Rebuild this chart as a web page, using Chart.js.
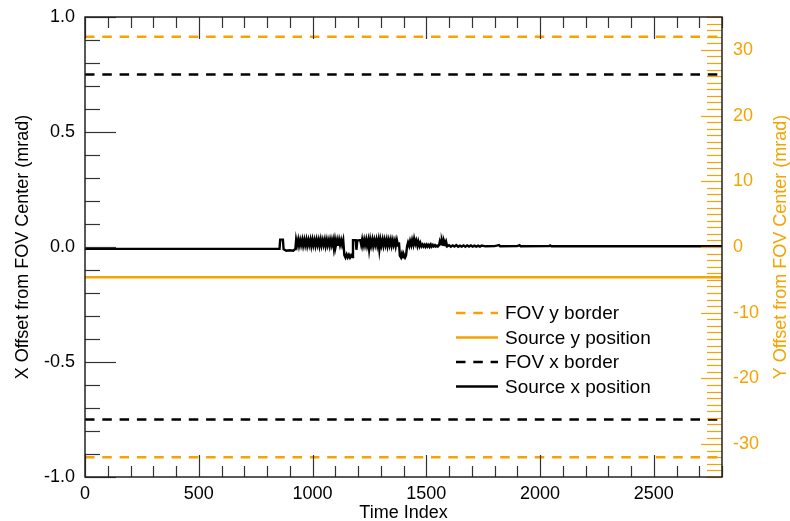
<!DOCTYPE html>
<html>
<head>
<meta charset="utf-8">
<script src="https://cdn.jsdelivr.net/npm/chart.js@4.4.1/dist/chart.umd.min.js"></script>
<style>
  html, body { margin: 0; padding: 0; background: #fff; }
</style>
</head>
<body>
<canvas id="graficoOffset" width="790" height="521"></canvas>
<script>
// datos
const timeRange = [0, 2800];
const fovYBorder = [32, -32];      // mrad, eje derecho
const fovXBorder = [0.75, -0.75];  // mrad, eje izquierdo
const srcYPos = -4.6;              // mrad, eje derecho

const srcXTime = [0, 855, 858, 870, 873, 885, 900, 915, 925,
  928, 932, 937, 941, 946, 950, 955, 959, 964, 968, 973, 977, 982, 986, 991, 995,
  1000, 1004, 1009, 1013, 1018, 1022, 1027, 1031, 1036, 1040, 1045, 1049, 1054, 1058,
  1063, 1067, 1072, 1076, 1081, 1085, 1090, 1094, 1099, 1103, 1108, 1112, 1117, 1121,
  1126, 1130, 1135,
  1140, 1145, 1150, 1155, 1160, 1165, 1170, 1175,
  1178, 1190, 1193, 1197, 1210,
  1214, 1218, 1222, 1227, 1231, 1236, 1240, 1245, 1249, 1254, 1258, 1263, 1267, 1272,
  1276, 1281, 1285, 1290, 1294, 1299, 1303, 1308, 1312, 1317, 1321, 1326, 1330, 1335,
  1339, 1344, 1348, 1353, 1357, 1362, 1366, 1371, 1376, 1380,
  1384, 1389, 1393, 1398, 1402, 1407, 1411,
  1416, 1420, 1425, 1429, 1434, 1438, 1443, 1447, 1452, 1456, 1461, 1465, 1470, 1474, 1479,
  1484, 1488, 1493, 1497, 1502, 1506, 1511, 1515, 1520, 1524, 1529, 1533, 1538, 1542,
  1547, 1551, 1556,
  1560, 1565, 1569, 1574, 1578, 1583, 1587,
  1592, 1600, 1608, 1616, 1624, 1632, 1640, 1648, 1656, 1664, 1672, 1680, 1688, 1696,
  1704, 1712, 1720, 1728, 1736, 1744, 1760, 1800, 1820, 1825, 1900, 1910, 1915,
  2040, 2045, 2050, 2800];
const srcXVal = [-0.008, -0.008, 0.032, 0.032, -0.010, -0.016, -0.014, -0.016, -0.008,
  0.030, 0.008, 0.032, 0.006, 0.030, 0.009, 0.032, 0.006, 0.031, 0.008, 0.032, 0.006, 0.030, 0.009, 0.032, 0.005,
  0.032, 0.008, 0.030, 0.006, 0.032, 0.009, 0.031, 0.005, 0.032, 0.007, 0.030, 0.009, 0.032, 0.005,
  0.031, 0.008, 0.030, 0.006, 0.032, 0.009, 0.031, -0.004, 0.032, 0.007, 0.030, 0.005, 0.031, 0.009,
  0.030, 0.010, 0.030,
  -0.036, -0.046, -0.032, -0.045, -0.034, -0.046, -0.036, -0.044,
  0.030, 0.030, -0.012, 0.028, 0.030,
  0.010, 0.032, 0.006, 0.031, 0.008, 0.032, 0.006, 0.030, -0.010, 0.031, 0.007, 0.032, 0.005, 0.030,
  0.009, 0.032, 0.006, 0.031, -0.012, 0.030, 0.008, 0.032, 0.006, 0.031, 0.009, 0.032, 0.005, 0.030,
  0.008, 0.031, 0.006, 0.030, 0.009, 0.028, 0.004, 0.030, 0.006, 0.020,
  -0.038, -0.046, -0.030, -0.045, -0.034, -0.046, -0.038,
  0.005, 0.020, 0.005, 0.026, 0.008, 0.030, 0.010, 0.036, 0.014, 0.028, 0.006, 0.024, 0.005, 0.018, 0.003,
  0.011, 0.002, 0.010, 0.001, 0.010, 0.002, 0.009, 0.001, 0.011, 0.002, 0.009, 0.003, 0.008, 0.002,
  0.006, 0.002, 0.008,
  0.026, 0.012, 0.028, 0.010, 0.027, 0.013, 0.024,
  0.003, 0.008, 0.001, 0.007, 0.002, 0.008, 0.001, 0.006, 0.002, 0.007, 0.001, 0.007, 0.002, 0.007,
  0.002, 0.006, 0.002, 0.006, 0.002, 0.006, 0.003, 0.004, 0.008, 0.003, 0.004, 0.008, 0.003,
  0.004, 0.007, 0.003, 0.003];

const xTickVals = [0, 500, 1000, 1500, 2000, 2500];
const yTickVals = [-1.0, -0.5, 0.0, 0.5, 1.0];
const y2TickVals = [-30, -20, -10, 0, 10, 20, 30];

const legendItems = ['FOV y border', 'Source y position', 'FOV x border', 'Source x position'];

const ORANGE = '#F5A300';
const FONT = "'Liberation Sans', Arial, sans-serif";

const flat = (v) => timeRange.map(t => ({x: t, y: v}));
const srcXPts = srcXTime.map((t, i) => ({x: t, y: srcXVal[i]}));

const styles = [
  {color: ORANGE, dash: [9.5, 7.8]},
  {color: ORANGE, dash: []},
  {color: '#000', dash: [9.5, 7.8]},
  {color: '#000', dash: []},
];

// ticks menores y marco
const ticksPlugin = {
  id: 'ticksPlugin',
  afterDatasetsDraw(chart) {
    const {ctx, chartArea: a, scales} = chart;
    const seg = (x1, y1, x2, y2) => { ctx.beginPath(); ctx.moveTo(x1, y1); ctx.lineTo(x2, y2); ctx.stroke(); };
    ctx.save();
    ctx.lineWidth = 1.2;
    ctx.strokeStyle = '#333';
    for (let v = 0; v <= 2800; v += 100) {
      const px = Math.round(scales.x.getPixelForValue(v)) + 0.5;
      const len = v % 500 === 0 ? 22 : 11;
      seg(px, a.bottom, px, a.bottom - len);
      seg(px, a.top, px, a.top + len);
    }
    for (let i = -10; i <= 10; i++) {
      const py = Math.round(scales.y.getPixelForValue(i / 10)) + 0.5;
      const len = i % 5 === 0 ? 31 : 15;
      seg(a.left, py, a.left + len, py);
    }
    ctx.strokeStyle = ORANGE;
    for (let v = -35; v <= 35; v++) {
      const py = Math.round(scales.y2.getPixelForValue(v)) + 0.5;
      const len = v % 10 === 0 ? 21 : 15;
      seg(a.right, py, a.right - len, py);
    }
    ctx.strokeStyle = '#222';
    ctx.lineWidth = 1.5;
    ctx.strokeRect(a.left, a.top, a.right - a.left, a.bottom - a.top);
    ctx.restore();
  }
};

// leyenda y titulo derecho
const extrasPlugin = {
  id: 'extrasPlugin',
  afterDraw(chart) {
    const {ctx, chartArea: a} = chart;
    ctx.save();
    ctx.font = '19px ' + FONT;
    ctx.textBaseline = 'middle';
    ctx.textAlign = 'left';
    legendItems.forEach((txt, i) => {
      const y = 313 + i * 24.5;
      ctx.strokeStyle = styles[i].color;
      ctx.lineWidth = 2.6;
      ctx.setLineDash(styles[i].dash);
      ctx.beginPath(); ctx.moveTo(456, y); ctx.lineTo(498, y); ctx.stroke();
      ctx.setLineDash([]);
      ctx.fillStyle = '#000';
      ctx.fillText(txt, 505, y + 1);
    });
    ctx.translate(781, (a.top + a.bottom) / 2);
    ctx.rotate(-Math.PI / 2);
    ctx.textAlign = 'center';
    ctx.fillStyle = ORANGE;
    ctx.font = '18px ' + FONT;
    ctx.fillText('Y Offset from FOV Center (mrad)', 0, 0);
    ctx.restore();
  }
};

const fitY = (w) => (s) => { s.width = w; s.paddingTop = 0; s.paddingBottom = 0; };

const ctx = document.getElementById('graficoOffset').getContext('2d');
const myChart = new Chart(ctx, {
  type: 'line',
  data: {
    datasets: [
      {label: 'FOV y border', data: flat(fovYBorder[0]), yAxisID: 'y2', borderColor: ORANGE, borderDash: styles[0].dash, borderWidth: 2.6},
      {label: 'FOV y border b', data: flat(fovYBorder[1]), yAxisID: 'y2', borderColor: ORANGE, borderDash: styles[0].dash, borderWidth: 2.6},
      {label: 'Source y position', data: flat(srcYPos), yAxisID: 'y2', borderColor: ORANGE, borderWidth: 2.6},
      {label: 'FOV x border', data: flat(fovXBorder[0]), yAxisID: 'y', borderColor: '#000', borderDash: styles[2].dash, borderWidth: 2.6},
      {label: 'FOV x border b', data: flat(fovXBorder[1]), yAxisID: 'y', borderColor: '#000', borderDash: styles[2].dash, borderWidth: 2.6},
      {label: 'Source x position', data: srcXPts, yAxisID: 'y', borderColor: '#000', borderWidth: 2.4},
    ],
  },
  options: {
    responsive: false,
    animation: false,
    layout: {padding: {top: 17, left: 0, right: 0, bottom: 0}},
    elements: {point: {radius: 0}, line: {tension: 0}},
    plugins: {legend: {display: false}, tooltip: {enabled: false}},
    scales: {
      x: {
        type: 'linear', min: 0, max: 2800,
        grid: {display: false, drawTicks: false},
        border: {display: false},
        ticks: {font: {family: FONT, size: 18}, color: '#000', padding: 6, maxRotation: 0, autoSkip: false,
                callback: (v) => String(v)},
        afterBuildTicks: (s) => { s.ticks = xTickVals.map(v => ({value: v})); },
        afterFit: (s) => { s.height = 44; s.paddingLeft = 0; s.paddingRight = 0; },
        title: {display: true, text: 'Time Index', color: '#000', font: {family: FONT, size: 18}, padding: {top: 0, bottom: -3}},
      },
      y: {
        position: 'left', min: -1, max: 1,
        grid: {display: false, drawTicks: false},
        border: {display: false},
        ticks: {font: {family: FONT, size: 18}, color: '#000', padding: 10, callback: (v) => v.toFixed(1)},
        afterBuildTicks: (s) => { s.ticks = yTickVals.map(v => ({value: v})); },
        afterFit: fitY(85),
        title: {display: true, text: 'X Offset from FOV Center (mrad)', color: '#000', font: {family: FONT, size: 18}, padding: {top: 12, bottom: 0}},
      },
      y2: {
        position: 'right', min: -35, max: 35,
        grid: {display: false, drawTicks: false},
        border: {display: false},
        ticks: {font: {family: FONT, size: 18}, color: ORANGE, padding: 11, callback: (v) => String(v)},
        afterBuildTicks: (s) => { s.ticks = y2TickVals.map(v => ({value: v})); },
        afterFit: fitY(68),
      },
    },
  },
  plugins: [ticksPlugin, extrasPlugin],
});
</script>
</body>
</html>
